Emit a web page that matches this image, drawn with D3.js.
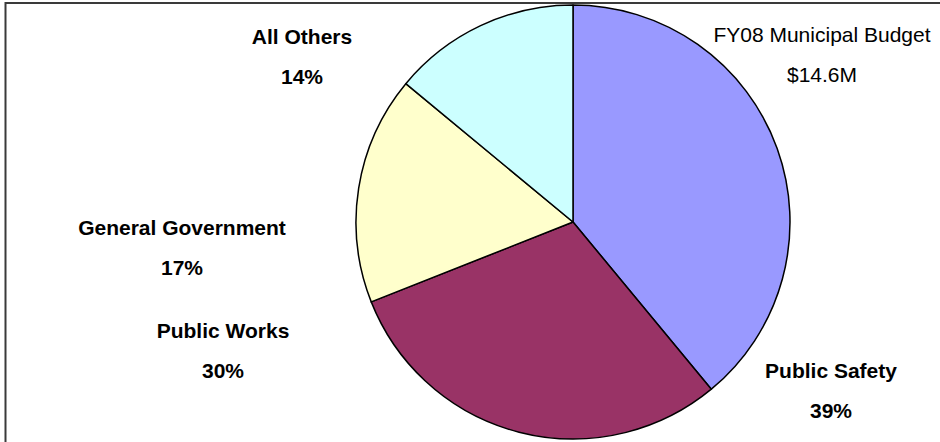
<!DOCTYPE html>
<html>
<head>
<meta charset="utf-8">
<script src="https://cdn.jsdelivr.net/npm/d3@7"></script>
<style>
  html, body { margin: 0; padding: 0; background: #fff; }
  svg { display: block; }
  text { font-family: "Liberation Sans", Arial, sans-serif; fill: #000; }
</style>
</head>
<body>
<svg id="chart" width="940" height="442"></svg>
<script>
// FY08 municipal budget shares by function
const categories = ["Public Safety", "Public Works", "General Government", "All Others"];
const shares = [39, 30, 17, 14];
const sliceColors = ["#9999FF", "#993366", "#FFFFCC", "#CCFFFF"];
const chartTitle = ["FY08 Municipal Budget", "$14.6M"];

const W = 940, H = 442;
const cx = 573, cy = 222, radius = 217;

// label anchor points (centre of the category line's baseline)
const labelLayout = {
  "Public Safety": [831, 378],
  "Public Works": [223, 338],
  "General Government": [182, 235],
  "All Others": [302, 44]
};
const lineGap = 40;

const svg = d3.select("#chart");

// chart frame (only its top and left edges fall inside the view)
svg.append("rect")
  .attr("x", 5.5).attr("y", 3)
  .attr("width", W + 20).attr("height", H + 20)
  .attr("fill", "#fff")
  .attr("stroke", "#3a3a3a")
  .attr("stroke-width", 2);

const data = categories.map((c, i) => ({ name: c, value: shares[i], color: sliceColors[i] }));

const pie = d3.pie().value(d => d.value).sort(null);
const arc = d3.arc().innerRadius(0).outerRadius(radius);

const g = svg.append("g").attr("transform", `translate(${cx},${cy})`);
g.selectAll("path")
  .data(pie(data))
  .join("path")
  .attr("d", arc)
  .attr("fill", d => d.data.color)
  .attr("stroke", "#000")
  .attr("stroke-width", 1.5)
  .attr("stroke-linejoin", "round");

// category labels with percentages
const labels = svg.append("g")
  .attr("font-size", 21)
  .attr("font-weight", "bold")
  .attr("text-anchor", "middle");
data.forEach(d => {
  const [x, y] = labelLayout[d.name];
  labels.append("text").attr("x", x).attr("y", y).text(d.name);
  labels.append("text").attr("x", x).attr("y", y + lineGap).text(d.value + "%");
});

// title block
const title = svg.append("g")
  .attr("font-size", 21)
  .attr("text-anchor", "middle");
chartTitle.forEach((t, i) => {
  title.append("text").attr("x", 822).attr("y", 42 + i * lineGap).text(t);
});
</script>
</body>
</html>
